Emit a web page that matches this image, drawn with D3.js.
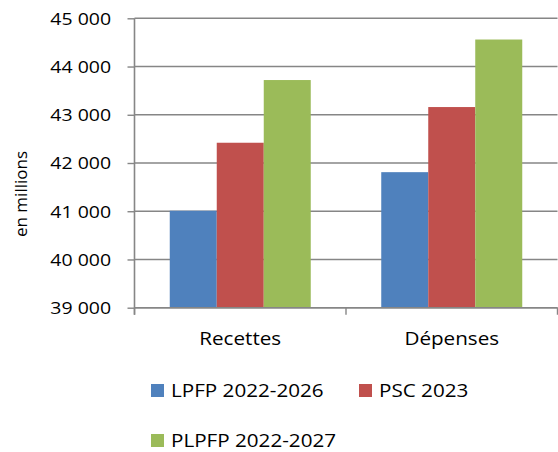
<!DOCTYPE html>
<html><head><meta charset="utf-8">
<script src="https://cdn.jsdelivr.net/npm/d3@7"></script>
<style>body{margin:0;background:#fff}svg{display:block}text{font-family:"Open Sans",sans-serif;fill:#000}</style>
</head><body><svg id="c" width="558" height="452"></svg>
<script>
const categories = ["Recettes", "Dépenses"];
const seriesNames = ["LPFP 2022-2026", "PSC 2023", "PLPFP 2022-2027"];
const seriesColors = ["#4F81BD", "#C0504D", "#9BBB59"];
const lpfp = [41010, 41810];
const psc = [42420, 43160];
const plpfp = [43720, 44560];
const yTicks = [39000, 40000, 41000, 42000, 43000, 44000, 45000];
const yTitle = "en millions";

const values = [lpfp, psc, plpfp];
const svg = d3.select("#c");
const L = 134.5, R = 557.5, T = 18.3, B = 307.7;
const SX = 1.18;
const grid = "#868686";

const y = d3.scaleLinear().domain([39000, 45000]).range([B, T]);
const x0 = d3.scaleBand().domain(categories).range([L, R]);
const x1 = d3.scaleBand().domain(seriesNames).range([0, x0.bandwidth()]).paddingInner(0).paddingOuter(0.75);

// gridlines
const yAxis = d3.axisLeft(y).tickValues(yTicks).tickSize(7).tickFormat(d => d3.format(",")(d).replace(/,/g, " "));
const gGrid = svg.append("g").attr("transform", `translate(${L},0)`);
gGrid.selectAll("line.g").data(yTicks).join("line").attr("class","g")
  .attr("x1", 0).attr("x2", R - L).attr("y1", d => y(d)).attr("y2", d => y(d))
  .attr("stroke", grid).attr("stroke-width", 1.4);

// bars
const gb = svg.append("g");
categories.forEach((c, ci) => {
  seriesNames.forEach((s, si) => {
    const v = values[si][ci];
    gb.append("rect")
      .attr("x", x0(c) + x1(s)).attr("width", x1.bandwidth())
      .attr("y", y(v)).attr("height", y(39000) - y(v))
      .attr("fill", seriesColors[si]);
  });
});

// y axis
const gy = svg.append("g").attr("transform", `translate(${L},0)`).call(yAxis);
gy.select(".domain").attr("stroke", grid).attr("stroke-width", 1.6).attr("d", `M-0,${T}V${B + 7}`);
gy.selectAll(".tick line").attr("stroke", grid).attr("stroke-width", 1.4);
gy.selectAll(".tick text").attr("font-family", "Open Sans").attr("font-size", 16.5).attr("fill", "#000")
  .attr("x", -23.5 / SX).attr("transform", `scale(${SX},1)`).attr("dy", "0.35em");

// x axis
const xAxis = d3.axisBottom(x0).tickSize(0).tickPadding(0);
const gx = svg.append("g").attr("transform", `translate(0,${B})`).call(xAxis);
gx.select(".domain").attr("stroke", grid).attr("stroke-width", 1.4).attr("d", `M${L},0H${R}`);
gx.selectAll(".tick text").remove();
[L, x0(categories[1]), R].forEach(px => {
  gx.append("line").attr("x1", px).attr("x2", px).attr("y1", 0).attr("y2", 7).attr("stroke", grid).attr("stroke-width", 1.4);
});
categories.forEach(c => {
  svg.append("text").attr("text-anchor", "middle").attr("font-size", 17.5)
    .attr("transform", `translate(${x0(c) + x0.bandwidth() / 2},345) scale(${SX},1)`).text(c);
});

// y title
svg.append("text").attr("text-anchor", "middle").attr("font-size", 17)
  .attr("transform", "translate(27,194) rotate(-90)").text(yTitle);

// legend
const legendPos = [[151, 384], [359, 384], [151, 434]];
seriesNames.forEach((s, i) => {
  const [lx, ly] = legendPos[i];
  svg.append("rect").attr("x", lx).attr("y", ly).attr("width", 13).attr("height", 13).attr("fill", seriesColors[i]);
  svg.append("text").attr("font-size", 17.5)
    .attr("transform", `translate(${lx + 20},${ly + 13.3}) scale(${SX},1)`).text(s);
});
</script></body></html>
